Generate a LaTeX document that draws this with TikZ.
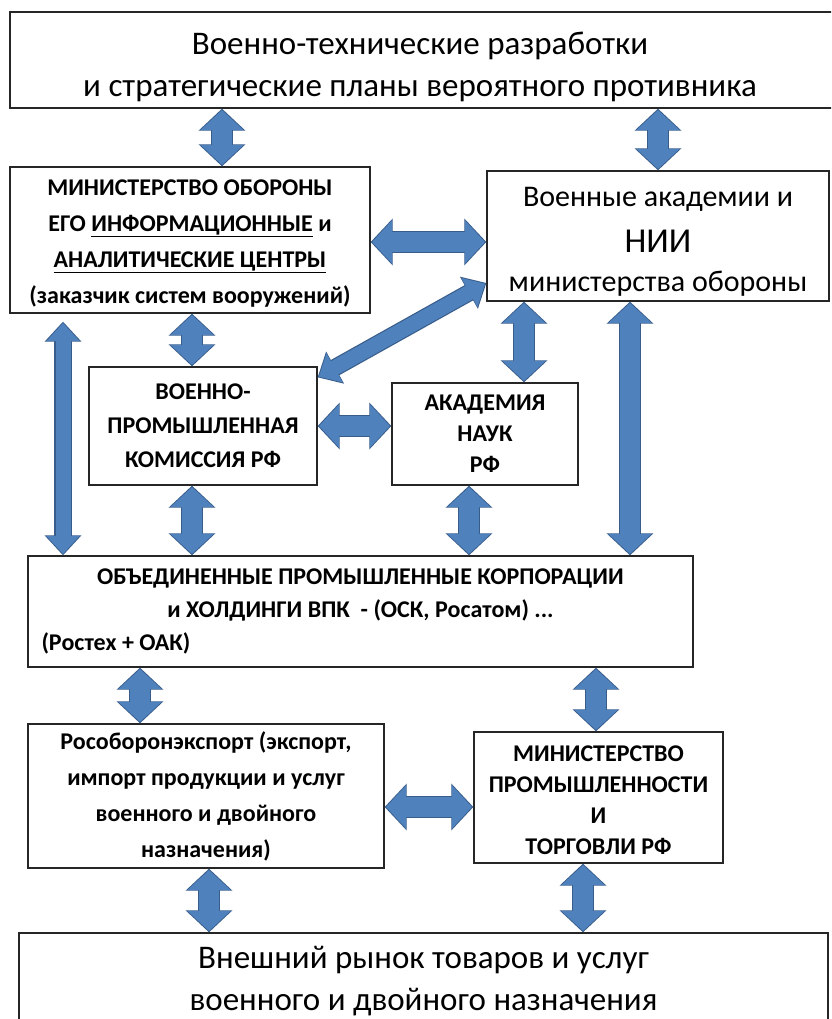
\documentclass[tikz,border=0pt]{standalone}
\usepackage{fontspec}
\setmainfont{Carlito}
\usetikzlibrary{arrows.meta,positioning}

\definecolor{arrowfill}{HTML}{4F81BD}
\definecolor{arrowline}{HTML}{385D8A}

\tikzset{
  box/.style={draw=black!85, line width=1.3pt, fill=white, align=center, inner sep=0pt},
  bigtext/.style={font=\fontsize{33}{42}\selectfont},
  smalltext/.style={font=\bfseries\fontsize{24}{35}\selectfont},
  % block arrows pointing both ways
  twoway/.style={line width=22.4pt, draw=arrowline,
    {Triangle[width=45.6pt,length=22pt]}-{Triangle[width=45.6pt,length=22pt]},
    postaction={draw=arrowfill, line width=20pt, shorten <=1.4pt, shorten >=1.4pt,
      {Triangle[width=42pt,length=20pt]}-{Triangle[width=42pt,length=20pt]}}},
  slimway/.style={line width=17.4pt, draw=arrowline,
    {Triangle[width=35.6pt,length=20pt]}-{Triangle[width=35.6pt,length=20pt]},
    postaction={draw=arrowfill, line width=15pt, shorten <=1.4pt, shorten >=1.4pt,
      {Triangle[width=32pt,length=18pt]}-{Triangle[width=32pt,length=18pt]}}}
}

\begin{document}
\begin{tikzpicture}[x=1pt, y=1pt]
  \useasboundingbox (0,0) rectangle (831,-1019);
  \clip (0,0) rectangle (831,-1019);
  \fill[white] (0,0) rectangle (831,-1019);

  % boxes
  \node (top) [box, bigtext, minimum width=830pt, minimum height=96pt] at (425,-60)
    {\raisebox{-7pt}[\height][\depth]{\begin{tabular}{@{}c@{}}Военно-технические разработки\\
      и стратегические планы вероятного противника\end{tabular}\hspace{10pt}}};
  \node (mo) [box, smalltext, font=\bfseries\fontsize{24}{36}\selectfont, minimum width=360pt, minimum height=146pt] at (190,-240)
    {\raisebox{-2pt}[\height][\depth]{\begin{tabular}{@{}c@{}}МИНИСТЕРСТВО ОБОРОНЫ\\ЕГО \underline{ИНФОРМАЦИОННЫЕ} и\\
      \underline{АНАЛИТИЧЕСКИЕ ЦЕНТРЫ}\\(заказчик систем вооружений)\end{tabular}}};
  \node (va) [box, font=\fontsize{30}{39}\selectfont, minimum width=342pt, minimum height=130pt] at (658,-236)
    {\raisebox{-5pt}[\height][\depth]{\begin{tabular}{@{}c@{}}Военные академии и\\[7pt]
      {\fontsize{35}{40}\selectfont НИИ}\\министерства обороны\end{tabular}}};
  \node (vpk) [box, smalltext, font=\bfseries\fontsize{24}{34}\selectfont, minimum width=228pt, minimum height=118pt] at (203,-426)
    {ВОЕННО-\\ПРОМЫШЛЕННАЯ\\КОМИССИЯ РФ};
  \node (an) [box, smalltext, font=\bfseries\fontsize{24}{31}\selectfont, minimum width=186pt, minimum height=102pt] at (485,-434)
    {АКАДЕМИЯ\\НАУК\\РФ};
  \node (opk) [box, smalltext, font=\bfseries\fontsize{24}{33}\selectfont,
    minimum width=665pt, minimum height=111pt] at (360.5,-611.5)
    {ОБЪЕДИНЕННЫЕ ПРОМЫШЛЕННЫЕ КОРПОРАЦИИ\\
     и ХОЛДИНГИ ВПК\ \ - (ОСК, Росатом) ...\\
     \makebox[638pt][l]{(Ростех + ОАК)}};
  \node (roe) [box, smalltext, font=\bfseries\fontsize{24}{36}\selectfont, minimum width=356pt, minimum height=144pt] at (206,-796)
    {Рособоронэкспорт (экспорт,\\импорт продукции и услуг\\военного и двойного\\назначения)};
  \node (mpt) [box, smalltext, font=\bfseries\fontsize{24}{31}\selectfont, minimum width=249pt, minimum height=131pt] at (598.5,-797.5)
    {\raisebox{-4pt}[\height][\depth]{\begin{tabular}{@{}c@{}}МИНИСТЕРСТВО\\ПРОМЫШЛЕННОСТИ\\И\\ТОРГОВЛИ РФ\end{tabular}}};
  \node (ext) [box, bigtext, minimum width=809pt, minimum height=97pt] at (423.5,-981.5)
    {Внешний рынок товаров и услуг\\военного и двойного назначения};

  % connectors
  \draw[twoway] ([xshift=32pt]mo.north) -- ([xshift=32pt]mo.north |- top.south);
  \draw[twoway] (va.north) -- (va.north |- top.south);
  \draw[twoway] ([yshift=-2pt]mo.east) -- ([yshift=-2pt]mo.east -| va.west);
  \draw[slimway] ([yshift=-47pt]va.west) -- ([yshift=-11pt]vpk.north east);
  \draw[twoway] ([xshift=2pt]mo.south) -- ([xshift=2pt]mo.south |- vpk.north);
  \draw[slimway] ([xshift=-127pt,yshift=-8pt]mo.south) -- ([xshift=-127pt]mo.south |- opk.north);
  \draw[twoway] ([xshift=39pt]an.north) -- ([xshift=39pt]an.north |- va.south);
  \draw[twoway] (vpk.east) -- (vpk.east -| an.west);
  \draw[twoway] ([xshift=-28pt]va.south) -- ([xshift=-28pt]va.south |- opk.north);
  \draw[twoway] ([xshift=-11pt]vpk.south) -- ([xshift=-11pt]vpk.south |- opk.north);
  \draw[twoway] ([xshift=-16pt]an.south) -- ([xshift=-16pt]an.south |- opk.north);
  \draw[twoway] ([xshift=-66pt]roe.north) -- ([xshift=-66pt]roe.north |- opk.south);
  \draw[twoway] ([xshift=-2.5pt]mpt.north) -- ([xshift=-2.5pt]mpt.north |- opk.south);
  \draw[twoway] ([yshift=-11pt]roe.east) -- ([yshift=-11pt]roe.east -| mpt.west);
  \draw[twoway] ([xshift=3pt]roe.south) -- ([xshift=3pt]roe.south |- ext.north);
  \draw[twoway] ([xshift=-15.5pt]mpt.south) -- ([xshift=-15.5pt]mpt.south |- ext.north);
\end{tikzpicture}
\end{document}
